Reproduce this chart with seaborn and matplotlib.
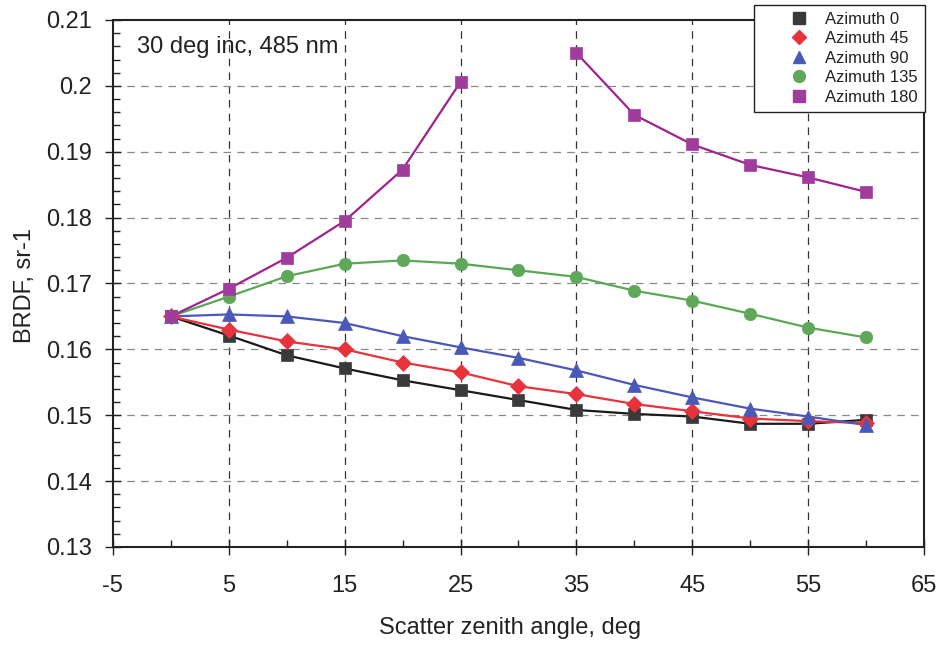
import numpy as np
import pandas as pd
import matplotlib
matplotlib.use("Agg")
import matplotlib.pyplot as plt
from matplotlib.lines import Line2D
from matplotlib.ticker import FuncFormatter, MultipleLocator
import seaborn as sns

angles = [0, 5, 10, 15, 20, 25, 30, 35, 40, 45, 50, 55, 60]
az0 = [0.165, 0.1621, 0.1591, 0.1571, 0.1553, 0.1538, 0.1523, 0.1508, 0.1502, 0.1498, 0.1487, 0.1487, 0.1493]
az45 = [0.165, 0.1630, 0.1612, 0.1600, 0.1580, 0.1565, 0.1544, 0.1532, 0.1517, 0.1506, 0.1495, 0.1491, 0.1488]
az90 = [0.165, 0.1653, 0.1650, 0.1640, 0.1620, 0.1603, 0.1587, 0.1568, 0.1546, 0.1527, 0.1510, 0.1498, 0.1485]
az135 = [0.165, 0.1680, 0.1711, 0.1730, 0.1735, 0.1730, 0.1720, 0.1710, 0.1689, 0.1674, 0.1654, 0.1633, 0.1618]
az180 = [0.165, 0.1692, 0.1739, 0.1795, 0.1873, 0.2006, np.nan, 0.2050, 0.1956, 0.1911, 0.1880, 0.1861, 0.1839]
labels = ["Azimuth 0", "Azimuth 45", "Azimuth 90", "Azimuth 135", "Azimuth 180"]
series = [az0, az45, az90, az135, az180]

colors = ["#1a1a1a", "#e8323c", "#4a58b8", "#5aa855", "#a0228e"]
mcolors = ["#3a3a3a", "#e8323c", "#4a58b8", "#5fa85a", "#a03c9c"]
markers = ["s", "D", "^", "o", "s"]
msizes = [9, 8, 9.5, 9, 9]

rows = []
for lab, vals in zip(labels, series):
    seg = 0
    for a, v in zip(angles, vals):
        if np.isnan(v):
            seg += 1
            continue
        rows.append({"angle": a, "brdf": v, "azimuth": lab, "seg": f"{lab}_{seg}"})
df = pd.DataFrame(rows)

sns.set_style("white")
plt.rcParams["font.family"] = ["Liberation Sans", "DejaVu Sans"]

fig = plt.figure(figsize=(9.41, 6.45), dpi=100)
ax = fig.add_axes([0.120, 0.152, 0.862, 0.817])

for lab, c, mc, m, ms in zip(labels, colors, mcolors, markers, msizes):
    sub = df[df["azimuth"] == lab]
    sns.lineplot(data=sub, x="angle", y="brdf", units="seg", estimator=None,
                 color=c, lw=1.6, ax=ax, legend=False, sort=False)
    ax.plot(sub["angle"], sub["brdf"], linestyle="none", marker=m, markersize=ms,
            markerfacecolor=mc, markeredgecolor=mc, markeredgewidth=0.5, zorder=3)

ax.set_xlim(-5, 65)
ax.set_ylim(0.13, 0.21)
ax.set_xticks(np.arange(-5, 66, 10))
ax.set_yticks(np.arange(0.13, 0.2101, 0.01))
ax.xaxis.set_minor_locator(MultipleLocator(10))
ax.yaxis.set_minor_locator(MultipleLocator(0.002))
ax.yaxis.set_major_formatter(FuncFormatter(lambda v, p: f"{v:.2f}".rstrip("0").rstrip(".")))
ax.xaxis.set_major_formatter(FuncFormatter(lambda v, p: f"{v:g}"))

ax.tick_params(axis="both", which="major", direction="inout", length=12, width=1,
               labelsize=17, colors="#222222", labelcolor="#222222")
ax.tick_params(axis="y", which="major", pad=9)
ax.tick_params(axis="x", which="major", pad=14)
ax.tick_params(axis="both", which="minor", direction="in", length=5, width=1, color="#222222")
ax.tick_params(axis="x", which="both", bottom=True)
ax.tick_params(axis="y", which="both", left=True)

for x in np.arange(5, 60, 10):
    ax.axvline(x, color="#333333", lw=0.9, ls=(0, (6, 5)), zorder=0)
for y in np.arange(0.14, 0.205, 0.01):
    ax.axhline(y, color="#888888", lw=0.9, ls=(0, (6, 5)), zorder=0)

for s in ax.spines.values():
    s.set_color("#222222")
    s.set_linewidth(1.5)

ax.set_xlabel("Scatter zenith angle, deg", fontsize=17, color="#222222")
ax.set_ylabel("BRDF, sr-1", fontsize=17, color="#222222")
ax.xaxis.set_label_coords(0.49, -0.133)
ax.yaxis.set_label_coords(-0.095, 0.497)

ax.text(-2.9, 0.2059, "30 deg inc, 485 nm", fontsize=17, color="#222222",
        ha="left", va="center")

handles = [Line2D([], [], linestyle="none", marker=m, markersize=ms * 0.95,
                  markerfacecolor=mc, markeredgecolor=mc)
           for m, mc, ms in zip(markers, mcolors, msizes)]
leg = fig.legend(handles, labels, loc="upper right", bbox_to_anchor=(0.983, 0.993),
                 fontsize=12, frameon=True, fancybox=False, framealpha=1,
                 edgecolor="#222222", labelspacing=0.27, handletextpad=-0.74,
                 borderpad=0.42, handlelength=4.6, borderaxespad=0)
leg.get_frame().set_linewidth(1.0)
for t in leg.get_texts():
    t.set_color("#222222")

fig.savefig("out.png", dpi=100)
